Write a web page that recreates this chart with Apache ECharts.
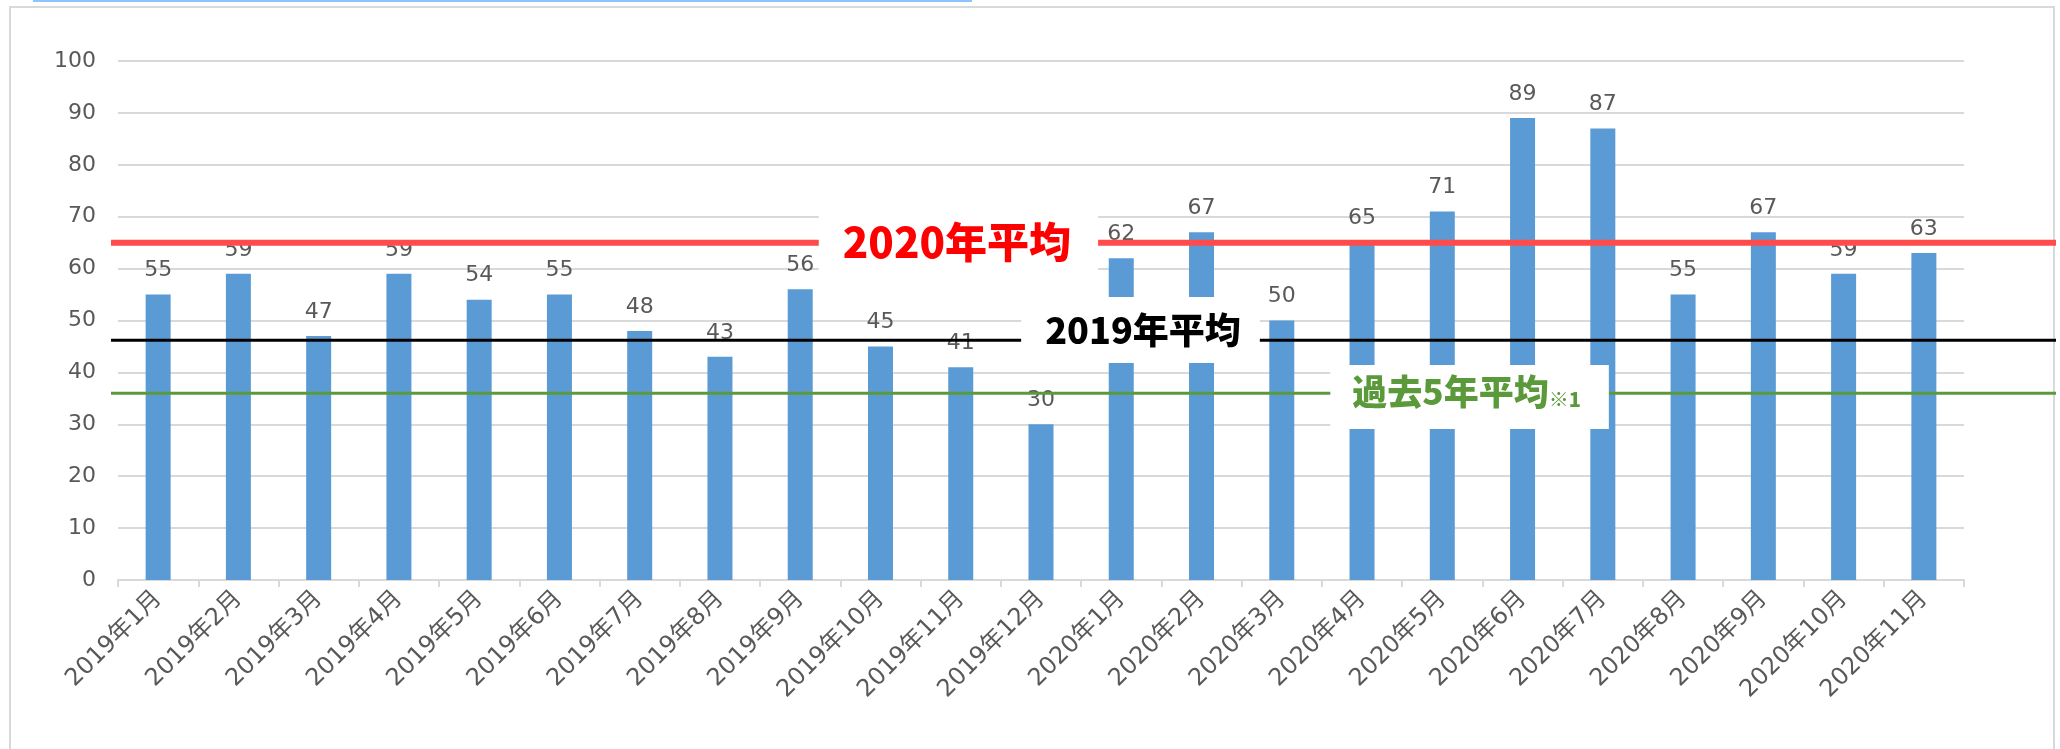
<!DOCTYPE html>
<html>
<head>
<meta charset="utf-8">
<script src="https://cdn.jsdelivr.net/npm/echarts@6/dist/echarts.min.js"></script>
<style>
html,body{margin:0;padding:0;background:#fff;}
#c{width:2060px;height:749px;}
</style>
</head>
<body>
<div id="c"></div>
<script>
// ---- data ----
const categories = ['2019年1月','2019年2月','2019年3月','2019年4月','2019年5月','2019年6月','2019年7月','2019年8月','2019年9月','2019年10月','2019年11月','2019年12月','2020年1月','2020年2月','2020年3月','2020年4月','2020年5月','2020年6月','2020年7月','2020年8月','2020年9月','2020年10月','2020年11月'];
const values = [55,59,47,59,54,55,48,43,56,45,41,30,62,67,50,65,71,89,87,55,67,59,63];
const yTicks = [0,10,20,30,40,50,60,70,80,90,100];
const avg2020 = 65;
const avg2019 = 46.2;
const avg5y = 36;
const avgNames = ['2020年平均','2019年平均','過去5年平均'];

const FONT = '"DejaVu Sans", "Noto Sans CJK JP", sans-serif';
const BOLD = '"Noto Sans CJK JP", "Noto Sans", sans-serif';
const chart = echarts.init(document.getElementById('c'), null, {renderer:'canvas'});

const GRID_TOP = 61, GRID_H = 519;

chart.setOption({
  animation:false,
  backgroundColor:'#fff',
  textStyle:{fontFamily:FONT},
  graphic:[
    {type:'rect', shape:{x:10,y:7,width:2044,height:800}, style:{fill:null, stroke:'#d9d9d9', lineWidth:2}, z:-10, silent:true},
    {type:'rect', shape:{x:33,y:0,width:939,height:2}, style:{fill:'#8cc4ff'}, z:-10, silent:true}
  ],
  grid:[
    {left:118, width:1846, top:GRID_TOP, height:GRID_H},
    {left:111, width:1945, top:GRID_TOP, height:GRID_H}
  ],
  xAxis:[
    {type:'category', data:categories, gridIndex:0,
     axisLine:{lineStyle:{color:'#d9d9d9', width:2}},
     axisTick:{show:true, length:7, lineStyle:{color:'#d9d9d9', width:2}},
     axisLabel:{rotate:45, color:'#595959', fontSize:24, fontFamily:FONT, margin:15, interval:0}},
    {type:'value', gridIndex:1, min:0, max:1, show:false}
  ],
  yAxis:[
    {type:'value', gridIndex:0, min:yTicks[0], max:yTicks[yTicks.length-1], interval:yTicks[1]-yTicks[0],
     axisLine:{show:false}, axisTick:{show:false},
     axisLabel:{color:'#595959', fontSize:22, fontFamily:FONT, margin:22},
     splitLine:{lineStyle:{color:'#d9d9d9', width:2}}},
    {type:'value', gridIndex:1, min:yTicks[0], max:yTicks[yTicks.length-1], show:false}
  ],
  series:[
    {type:'bar', data:values, xAxisIndex:0, yAxisIndex:0, barWidth:25, z:2,
     itemStyle:{color:'#5b9bd5'},
     label:{show:true, position:'top', distance:13, color:'#595959', fontSize:22, fontFamily:FONT}},
    {type:'line', name:avgNames[0], xAxisIndex:1, yAxisIndex:1, data:[[0,avg2020],[1,avg2020]], symbol:'none', z:5, silent:true,
     lineStyle:{color:'#ff4b4b', width:6}},
    {type:'line', name:avgNames[1], xAxisIndex:1, yAxisIndex:1, data:[[0,avg2019],[1,avg2019]], symbol:'none', z:5, silent:true,
     lineStyle:{color:'#000000', width:3}},
    {type:'line', name:avgNames[2], xAxisIndex:1, yAxisIndex:1, data:[[0,avg5y],[1,avg5y]], symbol:'none', z:5, silent:true,
     lineStyle:{color:'#5b9a3a', width:3}},
    {type:'scatter', xAxisIndex:1, yAxisIndex:1, symbolSize:0, z:8, silent:true,
     itemStyle:{opacity:1},
     emphasis:{disabled:true},
     data:[
       {value:[0.4357, 65.1], label:{formatter:avgNames[0], color:'#ff0000', fontSize:42, lineHeight:42, fontWeight:900, padding:[14,27,20,24]}},
       {value:[0.5293, 48.17], label:{formatter:avgNames[1], color:'#000000', fontSize:36, lineHeight:36, fontWeight:900, padding:[10,19,20,24]}},
       {value:[0.6985, 35.26], label:{formatter:'{a|'+avgNames[2]+'}{b|※1}', padding:[9,28,20,22],
          rich:{a:{color:'#5b9a3a', fontSize:35, lineHeight:35, fontWeight:900, fontFamily:BOLD},
                b:{color:'#5b9a3a', fontSize:20, lineHeight:35, fontWeight:900, fontFamily:BOLD, verticalAlign:'bottom'}}}}
     ],
     label:{show:true, position:'inside', align:'center', verticalAlign:'middle', backgroundColor:'#ffffff', opacity:1, fontFamily:BOLD}}
  ]
});
</script>
</body>
</html>
